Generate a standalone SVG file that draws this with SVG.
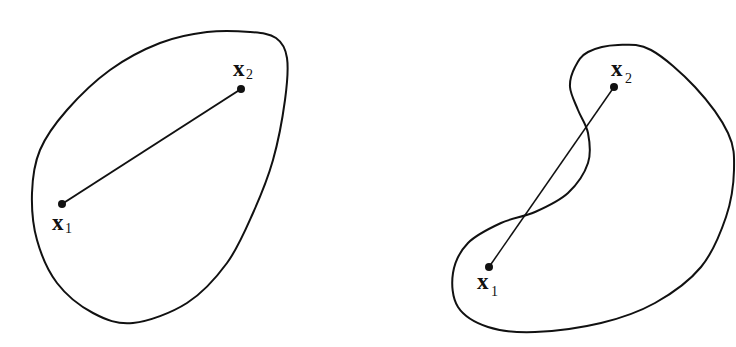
<svg xmlns="http://www.w3.org/2000/svg" width="736" height="347" viewBox="0 0 736 347">
<style>
.blob{fill:none;stroke:#111;stroke-width:2}
.seg{stroke:#111;stroke-width:2}
.dot{fill:#111}
.lab{font-family:"Liberation Serif","Times New Roman",serif;font-weight:bold;font-size:23px;fill:#111}
.sub{font-family:"Liberation Serif","Times New Roman",serif;font-size:14px;fill:#111}
</style>
<rect width="736" height="347" fill="#fff"/>
<g id="convex-set">
<path class="blob" d="M 207,32 C 222,30.2 238.5,31 250,32 C 261.5,33 269.8,33.7 276,38 C 282.2,42.3 285.5,47.7 287,58 C 288.5,68.3 287.3,83 285,100 C 282.7,117 278.3,141.2 273,160 C 267.7,178.8 260.7,195.8 253,213 C 245.3,230.2 238,248 227,263 C 216,278 202.7,293 187,303 C 171.3,313 148.7,321.3 133,323 C 117.3,324.7 105.7,319.7 93,313 C 80.3,306.3 66.3,295.2 57,283 C 47.7,270.8 41.2,255 37,240 C 32.8,225 31.5,208 32,193 C 32.5,178 34.2,163.8 40,150 C 45.8,136.2 55.3,123.3 67,110 C 78.7,96.7 94.5,81.2 110,70 C 125.5,58.8 143.8,49.3 160,43 C 176.2,36.7 192,33.8 207,32 Z"/>
</g>
<g id="nonconvex-set">
<path class="blob" d="M 618,45 C 628.5,44.7 638.2,43 651,50 C 663.8,57 682.2,73.2 695,87 C 707.8,100.8 721.5,119.2 728,133 C 734.5,146.8 734.3,156 734,170 C 733.7,184 731.5,200.8 726,217 C 720.5,233.2 712.8,252.7 701,267 C 689.2,281.3 671.7,293.7 655,303 C 638.3,312.3 621,318.2 601,323 C 581,327.8 553.8,331.3 535,332 C 516.2,332.7 500.8,331.2 488,327 C 475.2,322.8 463.8,316 458,307 C 452.2,298 451.3,283.7 453,273 C 454.7,262.3 460,251.3 468,243 C 476,234.7 489.8,228.2 501,223 C 512.2,217.8 523.8,217 535,212 C 546.2,207 559.2,201.2 568,193 C 576.8,184.8 584.7,173 588,163 C 591.3,153 589.7,141.8 588,133 C 586.3,124.2 581,117.7 578,110 C 575,102.3 570.5,94.2 570,87 C 569.5,79.8 572,72.8 575,67 C 578,61.2 580.8,55.7 588,52 C 595.2,48.3 607.5,45.3 618,45 Z"/>
</g>
<g id="connectors">
<line class="seg" x1="62" y1="204" x2="241" y2="89"/>
<line class="seg" x1="489" y1="267" x2="614" y2="87" style="stroke-width:1.5"/>
</g>
<g id="left-x1"><circle class="dot" cx="62" cy="204" r="4"/><text class="lab" x="52" y="230">x</text><text class="sub" x="65" y="233">1</text></g>
<g id="left-x2"><circle class="dot" cx="241" cy="89" r="4"/><text class="lab" x="233" y="76">x</text><text class="sub" x="246" y="79">2</text></g>
<g id="right-x1"><circle class="dot" cx="489" cy="267" r="4"/><text class="lab" x="477" y="289">x</text><text class="sub" x="491" y="296">1</text></g>
<g id="right-x2"><circle class="dot" cx="614" cy="87" r="4"/><text class="lab" x="611" y="76">x</text><text class="sub" x="625" y="83">2</text></g>
</svg>
